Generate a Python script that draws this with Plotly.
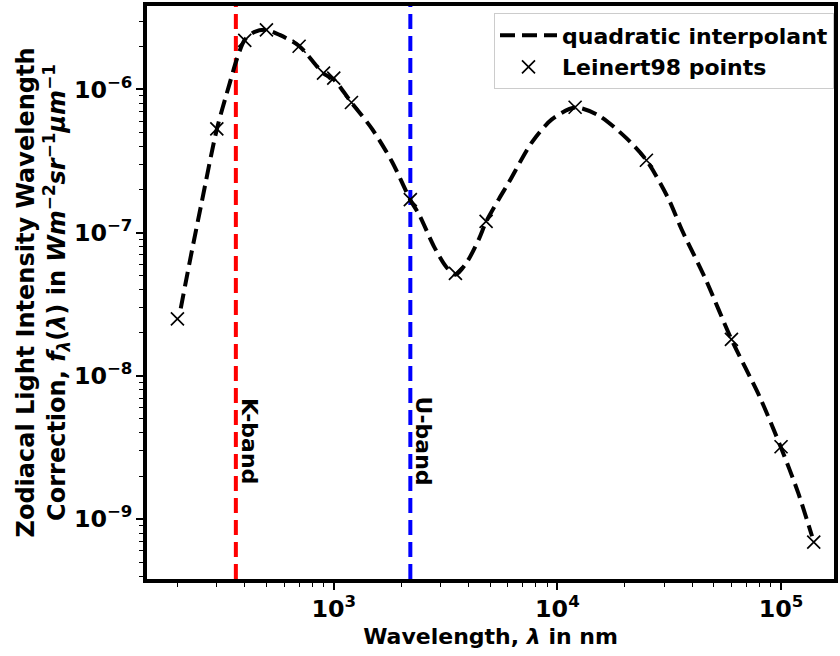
import math
import plotly.graph_objects as go

# ---- data ----
leinert_wavelength_nm = [200, 300, 400, 500, 700, 900, 1000, 1200, 2200, 3500,
                         4800, 12000, 25000, 60000, 100000, 140000]
leinert_intensity = [2.5e-8, 5.3e-7, 2.2e-6, 2.6e-6, 2.0e-6, 1.3e-6, 1.2e-6, 8.1e-7,
                     1.7e-7, 5.2e-8, 1.2e-7, 7.5e-7, 3.2e-7, 1.8e-8, 3.2e-9, 6.9e-10]

interp_wavelength_nm = [207, 227, 257, 300, 343, 368, 400, 443, 500, 573, 700, 837,
                        900, 1000, 1200, 1488, 1827, 2200, 2411, 2811, 3180, 3500,
                        3946, 4463, 4800, 5479, 6072, 7688, 9441, 12000, 15298,
                        20180, 25000, 31390, 35860, 45870, 60000, 80680, 100000,
                        119200, 137600]
interp_intensity = [2.96e-8, 6.26e-8, 1.64e-7, 5.26e-7, 1.11e-6, 1.61e-6, 2.22e-6,
                    2.52e-6, 2.60e-6, 2.40e-6, 2.01e-6, 1.46e-6, 1.29e-6, 1.17e-6,
                    8.09e-7, 5.26e-7, 3.10e-7, 1.69e-7, 1.33e-7, 7.96e-8, 5.78e-8,
                    5.09e-8, 6.26e-8, 9.05e-8, 1.19e-7, 1.72e-7, 2.25e-7, 4.27e-7,
                    6.17e-7, 7.47e-7, 6.57e-7, 4.62e-7, 3.20e-7, 1.72e-7, 1.06e-7,
                    4.77e-8, 1.80e-8, 7.01e-9, 3.15e-9, 1.53e-9, 7.59e-10]

band_names = ["K-band", "U-band"]
band_wavelength_nm = [365, 2200]
band_colors = ["#ff0000", "#0000ff"]

# ---- styling ----
FONT = "DejaVu Sans"
DASH = "15px,7px"

fig = go.Figure()

fig.add_trace(go.Scatter(
    x=interp_wavelength_nm, y=interp_intensity, mode="lines",
    name="quadratic interpolant",
    line=dict(color="black", width=4, dash=DASH, shape="spline", smoothing=0.8),
))
fig.add_trace(go.Scatter(
    x=leinert_wavelength_nm, y=leinert_intensity, mode="markers",
    name="Leinert98 points",
    marker=dict(symbol="x-thin", size=13, color="black",
                line=dict(color="black", width=1.7)),
))

for name, wl, col in zip(band_names, band_wavelength_nm, band_colors):
    fig.add_shape(type="line", xref="x", yref="paper", x0=wl, x1=wl, y0=0, y1=1,
                  line=dict(color=col, width=4, dash=DASH), layer="below")
    fig.add_annotation(x=math.log10(wl), y=0.241, xref="x", yref="paper",
                       text=name, textangle=90, showarrow=False, xshift=13,
                       xanchor="center", yanchor="middle",
                       font=dict(family=FONT, size=22, color="black", weight="bold"))

axis_common = dict(
    type="log", showgrid=False, zeroline=False,
    showline=True, linewidth=3.5, linecolor="black", mirror=True,
    ticks="outside", ticklen=7, tickwidth=2, tickcolor="black",
    dtick=1, exponentformat="power",
    tickfont=dict(family=FONT, size=19, color="black", weight="bold"),
    minor=dict(ticks="outside", ticklen=4, tickwidth=1.3, tickcolor="black", dtick="D1"),
)

fig.update_xaxes(**axis_common, range=[2.165, 5.2367],
                 title=dict(text="Wavelength, <i>λ</i> in nm", standoff=7,
                            font=dict(family=FONT, size=22, color="black", weight="bold")))
fig.update_yaxes(**axis_common, range=[-9.418, -5.418],
                 title=dict(text="Zodiacal Light Intensity Wavelength<br>Correction, "
                                 "<i>f</i><sub><i>λ</i></sub>(<i>λ</i>) in "
                                 "<i>Wm</i><sup>−2</sup><i>sr</i><sup>−1</sup><i>μm</i><sup>−1</sup>",
                            standoff=0,
                            font=dict(family=FONT, size=24, color="black", weight="bold")))

fig.update_layout(
    width=840, height=656,
    margin=dict(l=147, r=4, t=2, b=77),
    plot_bgcolor="white", paper_bgcolor="white",
    font=dict(family=FONT, color="black"),
    showlegend=True,
    legend=dict(x=1.0, y=0.987, xanchor="right", yanchor="top",
                bgcolor="rgba(255,255,255,0.8)", bordercolor="#cccccc", borderwidth=1,
                itemwidth=57,
                font=dict(family=FONT, size=22, color="black", weight="bold"),
                tracegroupgap=0),
)

fig.write_html("out.html")
